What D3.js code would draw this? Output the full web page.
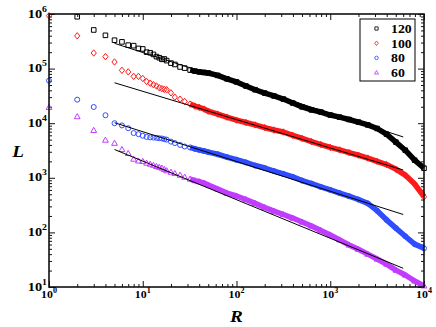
<!DOCTYPE html>
<html>
<head>
<meta charset="utf-8">
<script src="https://cdn.jsdelivr.net/npm/d3@7"></script>
<style>
  body { margin: 0; background: #fff; }
  svg { font-family: "Liberation Serif", "Times New Roman", serif; }
</style>
</head>
<body>
<svg id="chart"></svg>
<script>
var ranks = [1, 2, 3, 4, 5, 6, 7, 8, 9, 10, 11, 12, 13, 14, 15, 16, 17, 18,
  20, 22, 25, 28, 32, 36, 40, 45, 50, 63, 79, 100,
  126, 158, 200, 251, 316, 398, 501, 631, 794, 1000,
  1259, 1585, 1995, 2512, 3162, 3981, 5012, 6310, 7943, 10000];

// L values for each series (same order as ranks)
var L120 = [null, 890000, 510000, 407000, 331000, 309000, 269000, 263000, 234000, 229000, 200000, 195000,
  182000, 166000, 158000, 148000, 150000, 140000,
  126000, 119000, 107000, 102000, 94000, 90000, 87000, 85000, 83000, 75000, 65000, 57000,
  48000, 41000, 35600, 31500, 27700, 23400, 19900, 17500, 16000, 14100,
  12900, 11700, 10500, 9300, 8000, 6300, 4500, 3200, 2100, 1500];
var L100 = [930000, 398000, 193000, 166000, 132000, 93000, 87000, 72000, 72000, 66000, 58000, 54000,
  50700, 48000, 44700, 43000, 41700, 41000,
  36000, 30000, 27500, 25000, 22400, 20600, 19500, 18200, 16600, 14700, 12900, 11400,
  10300, 9300, 8300, 7500, 6900, 6000, 5250, 4600, 4070, 3600,
  3240, 2900, 2600, 2300, 2000, 1750, 1440, 1120, 770, 450];
var L80 = [60000, 27000, 19800, 14000, 10000, 9100, 8100, 6600, 6300, 5900, 5600, 5500,
  5450, 5400, 5300, 5250, 5100, 5000,
  4600, 4330, 4000, 3740, 3600, 3400, 3240, 3100, 2950, 2700, 2400, 2140,
  1910, 1680, 1510, 1330, 1180, 1040, 890, 785, 680, 600,
  525, 460, 400, 340, 250, 170, 120, 85, 61, 51];
var L60 = [19500, 13200, 7400, 4900, 4300, 3300, 2800, 2200, 2040, 2000, 1860, 1780,
  1700, 1620, 1560, 1510, 1420, 1350,
  1270, 1200, 1120, 1030, 950, 890, 850, 800, 740, 625, 525, 465,
  400, 340, 286, 245, 213, 183, 155, 131, 108, 90,
  73, 59, 49, 40, 32.5, 26.3, 20.4, 16.6, 12.9, 10.5];

// power-law fits: end points
var fitR = [5, 6000];
var fit120 = [290000, 5600];
var fit100 = [55000, 1390];
var fit80 = [10200, 213];
var fit60 = [3300, 22];

var seriesNames = ["120", "100", "80", "60"];

var series = [
  {name: seriesNames[0], values: L120, fit: fit120, color: "#000000", shape: "square"},
  {name: seriesNames[1], values: L100, fit: fit100, color: "#ff1a1a", shape: "diamond"},
  {name: seriesNames[2], values: L80, fit: fit80, color: "#2f4dff", shape: "circle"},
  {name: seriesNames[3], values: L60, fit: fit60, color: "#c23cff", shape: "triangle"}
];

var shapes = {
  square: "M-2.3,-2.3h4.6v4.6h-4.6z",
  diamond: "M0,-3.2L2.6,0L0,3.2L-2.6,0Z",
  circle: "M2.5,0A2.5,2.5 0 1,1 -2.5,0A2.5,2.5 0 1,1 2.5,0Z",
  triangle: "M0,-3L2.9,2.1L-2.9,2.1Z"
};

var margin = {top: 14, right: 12, bottom: 40, left: 49},
  width = 436 - margin.left - margin.right,
  height = 327 - margin.top - margin.bottom;

var svg = d3.select("#chart")
  .attr("width", width + margin.left + margin.right)
  .attr("height", height + margin.top + margin.bottom)
 .append("g")
  .attr("transform", "translate(" + margin.left + "," + margin.top + ")");

var x = d3.scaleLog().domain([1, 1e4]).range([0, width]);
var y = d3.scaleLog().domain([10, 1e6]).range([height, 0]);

var isPow = function(v) { return Math.abs(Math.log10(v) - Math.round(Math.log10(v))) < 1e-9; };
var xMajor = x.ticks().filter(isPow), xMinor = x.ticks().filter(function(v) { return !isPow(v); });
var yMajor = y.ticks().filter(isPow), yMinor = y.ticks().filter(function(v) { return !isPow(v); });

// inward ticks on all four sides
function addTicks(axis, vals, size, tr) {
  var g = svg.append("g").attr("transform", tr)
    .call(axis.tickValues(vals).tickSize(-size).tickFormat(""));
  g.select(".domain").remove();
  g.selectAll("line").attr("stroke", "#111").attr("stroke-width", 1);
}
addTicks(d3.axisBottom(x), xMinor, 3, "translate(0," + height + ")");
addTicks(d3.axisBottom(x), xMajor, 6, "translate(0," + height + ")");
addTicks(d3.axisTop(x), xMinor, 3, "translate(0,0)");
addTicks(d3.axisTop(x), xMajor, 6, "translate(0,0)");
addTicks(d3.axisLeft(y), yMinor, 3, "translate(0,0)");
addTicks(d3.axisLeft(y), yMajor, 6, "translate(0,0)");
addTicks(d3.axisRight(y), yMinor, 3, "translate(" + width + ",0)");
addTicks(d3.axisRight(y), yMajor, 6, "translate(" + width + ",0)");

// data
var rows = series.map(function(s) {
  return ranks.map(function(r, i) { return {R: r, L: s.values[i]}; })
    .filter(function(d) { return d.L != null; });
});

var band = d3.line()
  .x(function(d) { return x(d.R); })
  .y(function(d) { return y(d.L); });

series.forEach(function(s, k) {
  var pts = rows[k];
  // dense part: markers overlap into a thick band
  svg.append("path")
    .attr("d", band(pts.filter(function(d) { return d.R >= 32; })))
    .attr("fill", "none")
    .attr("stroke", s.color)
    .attr("stroke-width", 5.5)
    .attr("stroke-linejoin", "round");
  svg.append("g").selectAll("path")
    .data(pts)
    .enter().append("path")
    .attr("d", shapes[s.shape])
    .attr("transform", function(d) { return "translate(" + x(d.R) + "," + y(d.L) + ")"; })
    .attr("fill", "none")
    .attr("stroke", s.color)
    .attr("stroke-width", 1);
});

// fitted lines
series.forEach(function(s) {
  svg.append("line")
    .attr("x1", x(fitR[0])).attr("y1", y(s.fit[0]))
    .attr("x2", x(fitR[1])).attr("y2", y(s.fit[1]))
    .attr("stroke", "#000")
    .attr("stroke-width", 1);
});

// frame
svg.append("rect")
  .attr("width", width).attr("height", height)
  .attr("fill", "none")
  .attr("stroke", "#111")
  .attr("stroke-width", 1.6);

// tick labels, 10 with superscript exponent
function powLabel(g, v, fs) {
  var t = g.append("text").attr("font-weight", "bold").attr("font-size", fs);
  t.append("tspan").text("10");
  t.append("tspan").attr("font-size", fs * 0.68).attr("dy", -fs * 0.5).text(Math.round(Math.log10(v)));
  return t;
}
yMajor.forEach(function(v) {
  var g = svg.append("g").attr("transform", "translate(-2," + (y(v) + 3.5) + ") scale(1.2,1)");
  powLabel(g, v, 12).attr("text-anchor", "end");
});
xMajor.forEach(function(v) {
  var g = svg.append("g").attr("transform", "translate(" + x(v) + "," + (height + 11) + ") scale(1.08,1)");
  powLabel(g, v, 11).attr("text-anchor", "middle");
});

// axis titles
svg.append("text")
  .attr("transform", "translate(" + (-31) + "," + (height / 2 + 6) + ") scale(1.2,1)")
  .attr("text-anchor", "middle")
  .attr("font-weight", "bold").attr("font-style", "italic").attr("font-size", 16)
  .text("L");
svg.append("text")
  .attr("transform", "translate(" + (width / 2) + "," + (height + 35) + ") scale(1.2,1)")
  .attr("text-anchor", "middle")
  .attr("font-weight", "bold").attr("font-style", "italic").attr("font-size", 16)
  .text("R");

// legend
var legend = svg.append("g").attr("transform", "translate(" + (width - 64) + ",5)");
legend.append("rect")
  .attr("width", 55).attr("height", 62)
  .attr("fill", "#fff").attr("stroke", "#000").attr("stroke-width", 1);
series.forEach(function(s, i) {
  var row = legend.append("g").attr("transform", "translate(0," + (9.5 + i * 14.7) + ")");
  row.append("path")
    .attr("d", shapes[s.shape])
    .attr("transform", "translate(16.5,0) scale(0.7)")
    .attr("fill", "none").attr("stroke", s.color).attr("stroke-width", 1.2);
  row.append("text")
    .attr("transform", "translate(31,4.5) scale(1.2,1)")
    .attr("font-weight", "bold").attr("font-size", 11.5)
    .text(s.name);
});
</script>
</body>
</html>
